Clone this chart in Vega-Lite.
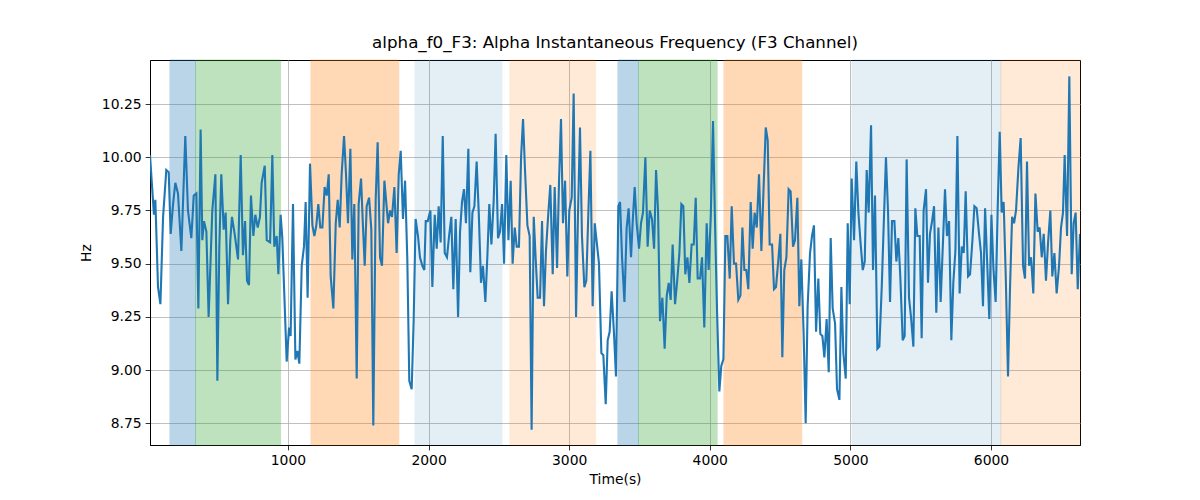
{
  "$schema": "https://vega.github.io/schema/vega-lite/v6.json",
  "width": 930,
  "height": 385,
  "autosize": {"type": "none"},
  "padding": {"left": 150, "top": 60, "right": 120, "bottom": 55},
  "background": "white",
  "title": {"text": "alpha_f0_F3: Alpha Instantaneous Frequency (F3 Channel)", "anchor": "middle", "fontSize": 16.7, "fontWeight": "normal", "font": "DejaVu Sans", "color": "black", "offset": 8},
  "datasets": {
    "bands": [
      {"start": 161, "end": 343, "kind": "A"},
      {"start": 343, "end": 948, "kind": "B"},
      {"start": 1164, "end": 1788, "kind": "C"},
      {"start": 1904, "end": 2522, "kind": "D"},
      {"start": 2579, "end": 3189, "kind": "E"},
      {"start": 3347, "end": 3493, "kind": "A"},
      {"start": 3493, "end": 4052, "kind": "B"},
      {"start": 4101, "end": 4654, "kind": "C"},
      {"start": 5012, "end": 6070, "kind": "D"},
      {"start": 6070, "end": 6633, "kind": "E"}
    ],
    "series": [
      {"t":19,"v":10.01},{"t":47,"v":9.73},{"t":57,"v":9.80},{"t":76,"v":9.39},{"t":93,"v":9.31},{"t":112,"v":9.72},{"t":135,"v":9.94},{"t":152,"v":9.93},{"t":166,"v":9.64},{"t":183,"v":9.78},{"t":199,"v":9.88},{"t":218,"v":9.83},{"t":242,"v":9.56},{"t":270,"v":10.10},{"t":289,"v":9.75},{"t":313,"v":9.62},{"t":330,"v":9.82},{"t":349,"v":9.83},{"t":363,"v":9.29},{"t":379,"v":10.13},{"t":391,"v":9.61},{"t":403,"v":9.70},{"t":420,"v":9.65},{"t":436,"v":9.25},{"t":462,"v":9.75},{"t":484,"v":9.92},{"t":498,"v":8.95},{"t":512,"v":9.58},{"t":526,"v":9.92},{"t":543,"v":9.66},{"t":557,"v":9.74},{"t":574,"v":9.31},{"t":590,"v":9.61},{"t":602,"v":9.72},{"t":621,"v":9.64},{"t":645,"v":9.52},{"t":664,"v":10.01},{"t":680,"v":9.54},{"t":695,"v":9.70},{"t":709,"v":9.42},{"t":723,"v":9.40},{"t":737,"v":9.82},{"t":754,"v":9.63},{"t":768,"v":9.73},{"t":785,"v":9.67},{"t":801,"v":9.72},{"t":813,"v":9.88},{"t":835,"v":9.96},{"t":849,"v":9.61},
      {"t":873,"v":9.60},{"t":889,"v":10.01},{"t":903,"v":9.58},{"t":920,"v":9.63},{"t":932,"v":9.45},{"t":948,"v":9.73},{"t":960,"v":9.62},{"t":974,"v":9.36},{"t":991,"v":9.04},{"t":1008,"v":9.20},{"t":1019,"v":9.16},{"t":1036,"v":9.78},{"t":1053,"v":9.05},{"t":1067,"v":9.09},{"t":1081,"v":9.03},{"t":1098,"v":9.49},{"t":1114,"v":9.58},{"t":1126,"v":9.79},{"t":1140,"v":9.34},{"t":1157,"v":9.97},{"t":1174,"v":9.68},{"t":1188,"v":9.63},{"t":1202,"v":9.68},{"t":1216,"v":9.78},{"t":1230,"v":9.67},{"t":1245,"v":9.67},{"t":1261,"v":9.86},{"t":1276,"v":9.82},{"t":1290,"v":9.92},{"t":1304,"v":9.44},{"t":1323,"v":9.29},{"t":1340,"v":9.69},{"t":1354,"v":9.80},{"t":1368,"v":9.67},{"t":1382,"v":9.92},{"t":1399,"v":10.10},{"t":1413,"v":9.92},{"t":1427,"v":9.69},{"t":1444,"v":10.04},{"t":1458,"v":9.52},{"t":1472,"v":9.78},{"t":1489,"v":8.96},{"t":1503,"v":9.78},{"t":1520,"v":9.90},{"t":1532,"v":9.70},{"t":1546,"v":9.49},{"t":1560,"v":9.77},{"t":1577,"v":9.81},{"t":1593,"v":9.66},{"t":1607,"v":8.74},{"t":1624,"v":9.80},{"t":1638,"v":10.07},{"t":1655,"v":9.53},{"t":1669,"v":9.49},{"t":1686,"v":9.89},
      {"t":1712,"v":9.69},{"t":1726,"v":9.75},{"t":1740,"v":9.72},{"t":1757,"v":9.86},{"t":1773,"v":9.55},{"t":1788,"v":9.92},{"t":1802,"v":10.03},{"t":1818,"v":9.71},{"t":1833,"v":9.89},{"t":1849,"v":9.52},{"t":1863,"v":8.95},{"t":1880,"v":8.91},{"t":1894,"v":9.23},{"t":1908,"v":9.71},{"t":1925,"v":9.63},{"t":1939,"v":9.53},{"t":1956,"v":9.49},{"t":1970,"v":9.47},{"t":1980,"v":9.70},{"t":1994,"v":9.70},{"t":2013,"v":9.75},{"t":2027,"v":9.39},{"t":2044,"v":9.73},{"t":2058,"v":9.57},{"t":2072,"v":9.77},{"t":2086,"v":9.60},{"t":2101,"v":10.10},{"t":2115,"v":9.55},{"t":2131,"v":9.53},{"t":2146,"v":9.63},{"t":2162,"v":9.72},{"t":2176,"v":9.38},{"t":2193,"v":9.71},{"t":2210,"v":9.25},{"t":2224,"v":9.65},{"t":2238,"v":9.79},{"t":2252,"v":9.85},{"t":2266,"v":9.69},{"t":2283,"v":10.04},{"t":2297,"v":9.46},{"t":2312,"v":9.74},{"t":2326,"v":9.77},{"t":2342,"v":9.98},{"t":2357,"v":9.74},{"t":2373,"v":9.41},{"t":2387,"v":9.49},{"t":2404,"v":9.32},{"t":2418,"v":9.53},{"t":2432,"v":9.78},{"t":2447,"v":9.59},{"t":2463,"v":9.79},{"t":2477,"v":10.11},{"t":2494,"v":9.62},{"t":2508,"v":9.65},{"t":2523,"v":9.78},
      {"t":2537,"v":9.50},{"t":2553,"v":10.01},{"t":2568,"v":9.61},{"t":2584,"v":9.89},{"t":2598,"v":9.50},{"t":2613,"v":9.67},{"t":2627,"v":9.58},{"t":2643,"v":9.58},{"t":2658,"v":10.00},{"t":2672,"v":10.18},{"t":2686,"v":9.94},{"t":2703,"v":9.68},{"t":2719,"v":9.63},{"t":2733,"v":8.72},{"t":2748,"v":9.72},{"t":2762,"v":9.52},{"t":2776,"v":9.34},{"t":2793,"v":9.34},{"t":2807,"v":9.70},{"t":2821,"v":9.30},{"t":2835,"v":9.56},{"t":2852,"v":9.74},{"t":2866,"v":9.87},{"t":2883,"v":9.45},{"t":2897,"v":9.86},{"t":2914,"v":9.48},{"t":2928,"v":9.89},{"t":2942,"v":10.18},{"t":2956,"v":9.69},{"t":2971,"v":9.89},{"t":2987,"v":9.44},{"t":3001,"v":9.75},{"t":3018,"v":9.81},{"t":3032,"v":10.30},{"t":3049,"v":9.25},{"t":3063,"v":9.74},{"t":3077,"v":10.14},{"t":3091,"v":9.63},{"t":3108,"v":9.39},{"t":3122,"v":9.42},{"t":3137,"v":9.75},{"t":3151,"v":10.03},{"t":3167,"v":9.30},{"t":3182,"v":9.69},{"t":3198,"v":9.59},{"t":3212,"v":9.50},{"t":3229,"v":9.08},{"t":3243,"v":9.07},{"t":3260,"v":8.84},{"t":3274,"v":9.14},{"t":3288,"v":9.18},{"t":3302,"v":9.37},{"t":3319,"v":9.17},{"t":3333,"v":8.97},{"t":3350,"v":9.77},
      {"t":3362,"v":9.79},{"t":3376,"v":9.53},{"t":3393,"v":9.32},{"t":3409,"v":9.67},{"t":3423,"v":9.76},{"t":3440,"v":9.53},{"t":3452,"v":9.70},{"t":3466,"v":9.86},{"t":3480,"v":9.69},{"t":3497,"v":9.57},{"t":3511,"v":9.69},{"t":3525,"v":9.74},{"t":3542,"v":10.00},{"t":3558,"v":9.58},{"t":3573,"v":9.75},{"t":3589,"v":9.71},{"t":3604,"v":9.57},{"t":3618,"v":9.94},{"t":3632,"v":9.75},{"t":3646,"v":9.23},{"t":3663,"v":9.34},{"t":3679,"v":9.10},{"t":3694,"v":9.35},{"t":3708,"v":9.41},{"t":3722,"v":9.33},{"t":3736,"v":9.59},{"t":3753,"v":9.31},{"t":3767,"v":9.41},{"t":3784,"v":9.55},{"t":3798,"v":9.78},{"t":3812,"v":9.77},{"t":3826,"v":9.45},{"t":3841,"v":9.53},{"t":3855,"v":9.41},{"t":3871,"v":9.59},{"t":3886,"v":9.59},{"t":3900,"v":9.81},{"t":3914,"v":9.43},{"t":3931,"v":9.43},{"t":3945,"v":9.53},{"t":3961,"v":9.20},{"t":3978,"v":9.69},{"t":3992,"v":9.47},{"t":4007,"v":9.72},{"t":4023,"v":10.17},{"t":4037,"v":9.70},{"t":4052,"v":9.27},{"t":4068,"v":8.90},{"t":4082,"v":9.02},{"t":4097,"v":9.05},{"t":4111,"v":9.63},{"t":4125,"v":9.63},{"t":4142,"v":9.43},{"t":4156,"v":9.77},{"t":4172,"v":9.50},{"t":4187,"v":9.50},
      {"t":4203,"v":9.33},{"t":4218,"v":9.35},{"t":4232,"v":9.67},{"t":4246,"v":9.47},{"t":4260,"v":9.47},{"t":4274,"v":9.38},{"t":4291,"v":9.79},{"t":4305,"v":9.57},{"t":4319,"v":9.74},{"t":4334,"v":9.67},{"t":4350,"v":9.92},{"t":4367,"v":9.56},{"t":4383,"v":9.86},{"t":4398,"v":10.14},{"t":4412,"v":10.08},{"t":4426,"v":9.59},{"t":4443,"v":9.59},{"t":4457,"v":9.38},{"t":4471,"v":9.39},{"t":4488,"v":9.52},{"t":4502,"v":9.64},{"t":4516,"v":9.06},{"t":4530,"v":9.47},{"t":4545,"v":9.53},{"t":4561,"v":9.85},{"t":4575,"v":9.84},{"t":4592,"v":9.58},{"t":4606,"v":9.61},{"t":4623,"v":9.81},{"t":4637,"v":9.30},{"t":4651,"v":9.52},{"t":4668,"v":9.16},{"t":4682,"v":8.75},{"t":4696,"v":9.30},{"t":4713,"v":9.55},{"t":4727,"v":9.63},{"t":4741,"v":9.68},{"t":4756,"v":9.18},{"t":4772,"v":9.43},{"t":4786,"v":9.17},{"t":4801,"v":9.16},{"t":4815,"v":9.06},{"t":4831,"v":9.24},{"t":4846,"v":8.99},{"t":4860,"v":9.62},{"t":4874,"v":9.29},{"t":4891,"v":9.22},{"t":4905,"v":8.91},{"t":4922,"v":8.86},{"t":4936,"v":9.39},{"t":4950,"v":9.08},{"t":4967,"v":8.96},{"t":4981,"v":9.69},{"t":4995,"v":9.31},{"t":5009,"v":9.90},
      {"t":5026,"v":9.61},{"t":5042,"v":9.98},{"t":5057,"v":9.74},{"t":5071,"v":9.61},{"t":5088,"v":9.47},{"t":5102,"v":9.51},{"t":5116,"v":9.94},{"t":5130,"v":9.74},{"t":5147,"v":10.15},{"t":5161,"v":9.47},{"t":5175,"v":9.82},{"t":5192,"v":9.10},{"t":5206,"v":9.11},{"t":5223,"v":9.39},{"t":5237,"v":9.68},{"t":5253,"v":10.00},{"t":5268,"v":9.74},{"t":5282,"v":9.32},{"t":5296,"v":9.70},{"t":5313,"v":9.70},{"t":5327,"v":9.51},{"t":5341,"v":9.62},{"t":5355,"v":9.44},{"t":5372,"v":9.14},{"t":5386,"v":9.16},{"t":5400,"v":9.99},{"t":5417,"v":9.34},{"t":5431,"v":9.25},{"t":5448,"v":9.11},{"t":5462,"v":9.76},{"t":5476,"v":9.63},{"t":5493,"v":9.63},{"t":5507,"v":9.15},{"t":5521,"v":9.75},{"t":5538,"v":9.85},{"t":5552,"v":9.41},{"t":5566,"v":9.64},{"t":5581,"v":9.70},{"t":5595,"v":9.77},{"t":5611,"v":9.27},{"t":5626,"v":9.67},{"t":5642,"v":9.32},{"t":5656,"v":9.56},{"t":5673,"v":9.85},{"t":5687,"v":9.63},{"t":5702,"v":9.70},{"t":5718,"v":9.14},{"t":5732,"v":9.41},{"t":5747,"v":9.56},{"t":5761,"v":10.10},{"t":5777,"v":9.36},{"t":5792,"v":9.58},{"t":5806,"v":9.55},{"t":5820,"v":9.84},{"t":5837,"v":9.44},{"t":5851,"v":9.45},
      {"t":5868,"v":9.61},{"t":5882,"v":9.77},{"t":5898,"v":9.76},{"t":5915,"v":9.64},{"t":5929,"v":9.55},{"t":5943,"v":9.30},{"t":5958,"v":9.76},{"t":5972,"v":9.52},{"t":5988,"v":9.24},{"t":6003,"v":9.73},{"t":6017,"v":9.48},{"t":6033,"v":9.32},{"t":6048,"v":9.77},{"t":6062,"v":10.12},{"t":6076,"v":9.74},{"t":6090,"v":9.79},{"t":6105,"v":9.44},{"t":6121,"v":8.97},{"t":6135,"v":9.38},{"t":6150,"v":9.72},{"t":6164,"v":9.69},{"t":6178,"v":9.75},{"t":6195,"v":9.95},{"t":6211,"v":10.09},{"t":6228,"v":9.49},{"t":6242,"v":9.43},{"t":6256,"v":9.98},{"t":6271,"v":9.49},{"t":6285,"v":9.53},{"t":6301,"v":9.36},{"t":6316,"v":9.83},{"t":6332,"v":9.65},{"t":6346,"v":9.67},{"t":6361,"v":9.53},{"t":6375,"v":9.64},{"t":6391,"v":9.42},{"t":6406,"v":9.60},{"t":6422,"v":9.75},{"t":6436,"v":9.44},{"t":6451,"v":9.55},{"t":6467,"v":9.36},{"t":6484,"v":9.49},{"t":6498,"v":9.67},{"t":6512,"v":9.74},{"t":6524,"v":10.01},{"t":6541,"v":9.63},{"t":6557,"v":10.38},{"t":6574,"v":9.45},{"t":6588,"v":9.69},{"t":6602,"v":9.74},{"t":6617,"v":9.38},{"t":6633,"v":9.64}
    ]
  },
  "layer": [
    {
      "data": {"name": "bands"},
      "transform": [{"filter": "datum.kind === 'A' || datum.kind === 'B' || datum.kind === 'C'"}],
      "mark": {"type": "rect", "strokeWidth": 1, "opacity": 0.3},
      "encoding": {
        "x": {"field": "start", "type": "quantitative", "scale": {"domain": [19, 6633], "nice": false, "zero": false}},
        "x2": {"field": "end"},
        "fill": {"field": "kind", "type": "nominal", "legend": null, "scale": {"domain": ["A", "B", "C", "D", "E"], "range": ["#1f77b4", "#2ca02c", "#ff7f0e", "#1f77b4", "#ff7f0e"]}},
        "stroke": {"field": "kind", "type": "nominal", "legend": null, "scale": {"domain": ["A", "B", "C", "D", "E"], "range": ["#1f77b4", "#2ca02c", "#ff7f0e", "#1f77b4", "#ff7f0e"]}}
      }
    },
    {
      "data": {"name": "bands"},
      "transform": [{"filter": "datum.kind === 'D'"}],
      "mark": {"type": "rect", "strokeWidth": 1, "opacity": 0.12},
      "encoding": {
        "x": {"field": "start", "type": "quantitative"},
        "x2": {"field": "end"},
        "fill": {"field": "kind", "type": "nominal", "legend": null},
        "stroke": {"field": "kind", "type": "nominal", "legend": null}
      }
    },
    {
      "data": {"name": "bands"},
      "transform": [{"filter": "datum.kind === 'E'"}],
      "mark": {"type": "rect", "strokeWidth": 1, "opacity": 0.16},
      "encoding": {
        "x": {"field": "start", "type": "quantitative"},
        "x2": {"field": "end"},
        "fill": {"field": "kind", "type": "nominal", "legend": null},
        "stroke": {"field": "kind", "type": "nominal", "legend": null}
      }
    },
    {
      "data": {"name": "series"},
      "mark": {"type": "line", "color": "#1f77b4", "strokeWidth": 2.1, "clip": true},
      "encoding": {
        "x": {"field": "t", "type": "quantitative", "title": "Time(s)", "scale": {"domain": [19, 6633], "nice": false, "zero": false},
              "axis": {"values": [1000, 2000, 3000, 4000, 5000, 6000], "format": "d"}},
        "y": {"field": "v", "type": "quantitative", "title": "Hz", "scale": {"domain": [8.648, 10.457], "nice": false, "zero": false},
              "axis": {"values": [8.75, 9.0, 9.25, 9.5, 9.75, 10.0, 10.25], "format": ".2f"}}
      }
    }
  ],
  "config": {
    "font": "DejaVu Sans",
    "view": {"stroke": "black", "strokeWidth": 1},
    "axis": {
      "grid": true,
      "gridColor": "#b0b0b0",
      "gridWidth": 0.8,
      "domainColor": "black",
      "domainWidth": 1,
      "tickColor": "black",
      "tickSize": 4.9,
      "tickWidth": 0.8,
      "labelFont": "DejaVu Sans",
      "labelFontSize": 13.9,
      "labelColor": "black",
      "labelPadding": 4,
      "titleFont": "DejaVu Sans",
      "titleFontSize": 13.9,
      "titleFontWeight": "normal",
      "titleColor": "black"
    },
    "axisX": {"titlePadding": 5},
    "axisY": {"titlePadding": 8}
  }
}
